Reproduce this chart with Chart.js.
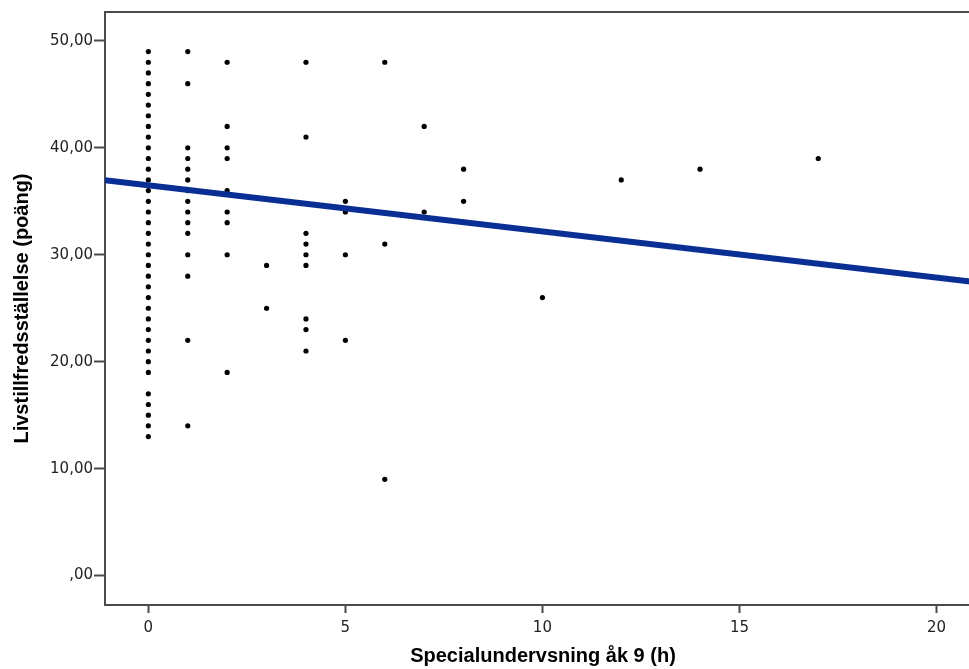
<!DOCTYPE html>
<html lang="sv">
<head>
<meta charset="utf-8">
<title>Livstillfredsställelse och specialundervisning</title>
<script src="https://cdn.jsdelivr.net/npm/chart.js@4/dist/chart.umd.min.js"></script>
<style>
  html, body { margin: 0; padding: 0; background: #ffffff; overflow: hidden; }
  #wrap { width: 969px; height: 669px; overflow: hidden; }
  canvas { display: block; }
</style>
</head>
<body>
<div id="wrap"><canvas id="chart" width="985" height="669"></canvas></div>
<script>
// Hours of special education in grade 9 (x) and the life-satisfaction scores observed at each level (y)
const hourGroups = [0, 1, 2, 3, 4, 5, 6, 7, 8, 10, 12, 14, 17];
const scoreGroups = [
  [13, 14, 15, 16, 17, 19, 20, 21, 22, 23, 24, 25, 26, 27, 28, 29, 30, 31, 32, 33,
   34, 35, 36, 37, 38, 39, 40, 41, 42, 43, 44, 45, 46, 47, 48, 49],
  [49, 46, 40, 39, 38, 37, 36, 35, 34, 33, 32, 30, 28, 22, 14],
  [48, 42, 40, 39, 36, 34, 33, 30, 19],
  [29, 25],
  [48, 41, 32, 31, 30, 29, 24, 23, 21],
  [35, 34, 30, 22],
  [48, 31, 9],
  [42, 34],
  [38, 35],
  [26],
  [37],
  [38],
  [39]
];

// Fitted regression line, given by its two end points
const fitX = [-1.10, 21.13];
const fitY = [36.97, 27.39];

// Axis ranges and ticks
const xRange = [-1.10, 21.13];
const yRange = [-2.75, 52.7];
const xTickValues = [0, 5, 10, 15, 20];
const yTickValues = [0, 10, 20, 30, 40, 50];
const yTickLabels = [',00', '10,00', '20,00', '30,00', '40,00', '50,00'];

const xTitle = 'Specialundervsning åk 9 (h)';
const yTitle = 'Livstillfredsställelse (poäng)';

const scatterPoints = [];
hourGroups.forEach((h, i) => {
  scoreGroups[i].forEach(s => scatterPoints.push({ x: h, y: s }));
});
const fitPoints = fitX.map((x, i) => ({ x: x, y: fitY[i] }));

const axisColor = '#4a4a4a';

// Top edge of the plot frame
const frameTop = {
  id: 'frameTop',
  afterDraw(chart) {
    const { ctx, chartArea } = chart;
    ctx.save();
    ctx.strokeStyle = axisColor;
    ctx.lineWidth = 2;
    ctx.beginPath();
    ctx.moveTo(chartArea.left - 1, chartArea.top);
    ctx.lineTo(chartArea.right + 5, chartArea.top);
    ctx.stroke();
    ctx.restore();
  }
};

const tickFont = { family: "'DejaVu Sans', sans-serif", size: 15 };
const titleFont = { family: "'Liberation Sans', Arial, sans-serif", size: 20, weight: 'bold' };

new Chart(document.getElementById('chart'), {
  data: {
    datasets: [
      {
        type: 'scatter',
        label: 'Observationer',
        data: scatterPoints,
        pointRadius: 2.6,
        pointBackgroundColor: '#000000',
        pointBorderWidth: 0,
        order: 2
      },
      {
        type: 'line',
        label: 'Linjär anpassning',
        data: fitPoints,
        borderColor: '#0a2f94',
        borderWidth: 6,
        pointRadius: 0,
        fill: false,
        tension: 0,
        order: 1
      }
    ]
  },
  options: {
    responsive: false,
    animation: false,
    devicePixelRatio: 1,
    layout: { padding: { top: 12, right: 0, left: 0, bottom: 0 } },
    plugins: {
      legend: { display: false },
      tooltip: { enabled: false }
    },
    scales: {
      x: {
        type: 'linear',
        position: 'bottom',
        min: xRange[0],
        max: xRange[1],
        afterBuildTicks: (scale) => { scale.ticks = xTickValues.map(v => ({ value: v })); },
        afterFit: (scale) => { scale.height = 64; },
        ticks: {
          color: '#222222',
          font: tickFont,
          padding: 6,
          maxRotation: 0,
          callback: (v) => String(v)
        },
        grid: {
          drawOnChartArea: false,
          drawTicks: true,
          tickLength: 8,
          tickColor: axisColor,
          tickWidth: 2
        },
        border: { display: true, color: axisColor, width: 2 },
        title: {
          display: true,
          text: xTitle,
          color: '#000000',
          font: titleFont,
          padding: { top: 0, bottom: 1 }
        }
      },
      y: {
        type: 'linear',
        position: 'left',
        min: yRange[0],
        max: yRange[1],
        afterBuildTicks: (scale) => { scale.ticks = yTickValues.map(v => ({ value: v })); },
        afterFit: (scale) => { scale.width = 105; },
        ticks: {
          color: '#222222',
          font: tickFont,
          padding: 1,
          callback: (v) => yTickLabels[yTickValues.indexOf(v)]
        },
        grid: {
          drawOnChartArea: false,
          drawTicks: true,
          tickLength: 11,
          tickColor: axisColor,
          tickWidth: 2
        },
        border: { display: true, color: axisColor, width: 2 },
        title: {
          display: true,
          text: yTitle,
          color: '#000000',
          font: titleFont,
          padding: { top: 10, bottom: 0 }
        }
      }
    }
  },
  plugins: [frameTop]
});
</script>
</body>
</html>
